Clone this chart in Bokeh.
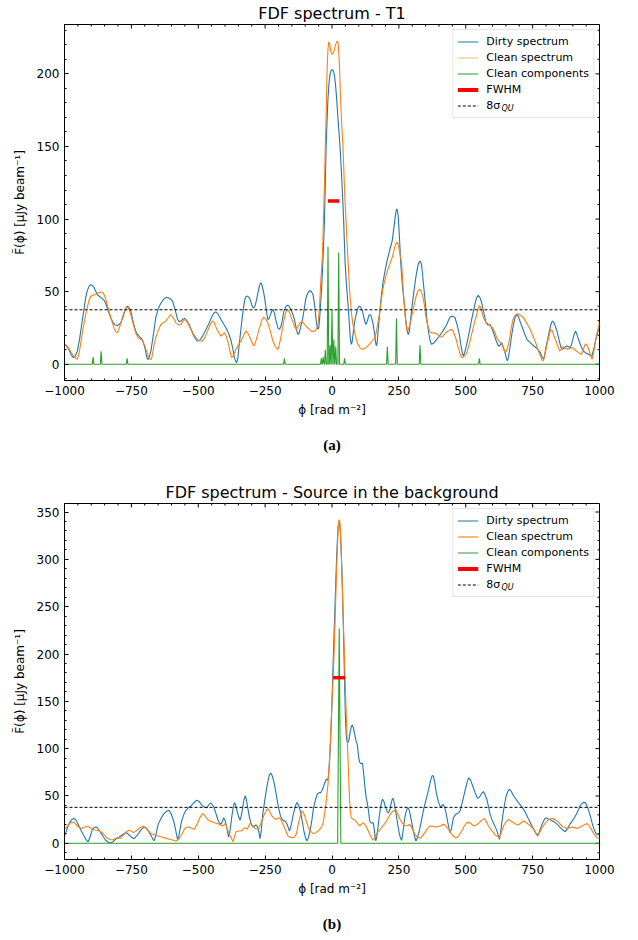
import math
from bokeh.plotting import figure
from bokeh.models import (Range1d, Legend, LegendItem, Title, SingleIntervalTicker, Label)
from bokeh.layouts import column
from bokeh.embed import file_html
from bokeh.resources import INLINE

# ---------------- Panel (a): T1  (phi [rad m^-2], amplitude [uJy/beam]) ----------------
A_DIRTY = [(-1000, 13.7), (-992, 12.5), (-984, 10.3), (-975, 6.5), (-967, 4.6), (-960, 5.5), (-952, 9),
           (-943, 18), (-934, 29.7), (-927, 38), (-921, 45.7), (-915, 50.5), (-908, 53.8), (-902, 54.8),
           (-896, 54.3), (-890, 53), (-884, 50.5), (-877, 48), (-868, 46.5), (-859, 45.2), (-852, 44),
           (-846, 42), (-837, 37), (-827, 32), (-818, 28.5), (-810, 27), (-802, 26.7), (-796, 27.3),
           (-790, 28.5), (-783, 31.5), (-777, 35), (-771, 38.5), (-765, 40), (-759, 39.2), (-752, 36.5),
           (-743, 29), (-734, 22.8), (-727, 20.5), (-720, 19), (-714, 18), (-709, 17), (-703, 13.5),
           (-698, 10), (-693, 5.5), (-690, 3.4), (-686, 3.6), (-682, 5.5), (-677, 9), (-668, 20),
           (-659, 32), (-650, 38), (-640, 42), (-628, 45), (-620, 46), (-615, 46), (-606, 45.3),
           (-596, 43.4), (-587, 38), (-577, 30.8), (-571, 29.2), (-565, 29.7), (-557, 31.2), (-550, 31.5),
           (-542, 29.8), (-534, 27.4), (-518, 20), (-508, 16.8), (-502, 16), (-495, 16.5), (-485, 19),
           (-477, 21.7), (-468, 25), (-459, 28.5), (-451, 32), (-445, 34.2), (-440, 35.6), (-434, 36),
           (-427, 34.8), (-420, 32.5), (-415, 30.8), (-406, 28), (-396, 25), (-386, 21), (-377, 16),
           (-371, 11), (-365, 4.6), (-360, 2), (-356, 1.1), (-352, 4), (-348, 12), (-344, 18), (-340, 25),
           (-335, 33), (-330, 40), (-326, 44.5), (-321, 46.8), (-315, 46.8), (-309, 45.7), (-304, 43.5),
           (-300, 41), (-296, 39.2), (-292, 38.8), (-287, 40.5), (-282, 44.5), (-277, 49), (-272, 53.5),
           (-267, 56), (-263, 55.3), (-260, 53), (-256, 50), (-252, 45.7), (-246, 38), (-240, 30.8),
           (-236, 31.3), (-230, 34), (-225, 36.6), (-220, 37.7), (-215, 35), (-209, 29.7), (-202, 25),
           (-196, 24), (-190, 26.5), (-186, 30), (-180, 36.5), (-174, 39.2), (-168, 40.6), (-162, 40.3),
           (-155, 38.2), (-146, 34.2), (-140, 30.5), (-135, 26), (-130, 22), (-127, 20.5), (-123, 21.2),
           (-118, 25), (-109, 32), (-103, 39), (-98, 45), (-94, 47.5), (-90, 49), (-84, 50.7), (-78, 50.3),
           (-71, 48), (-65, 41), (-59, 29.7), (-55, 25.5), (-52, 24), (-49, 25.5), (-46, 32), (-42, 43),
           (-38, 55), (-34, 71), (-31, 85), (-28, 100), (-25, 125), (-22, 150), (-18, 170), (-15, 183),
           (-11, 194), (-7, 200), (-3, 202.5), (1, 203), (5, 202), (9, 199), (13, 193), (17, 184),
           (22, 170), (27, 158), (31, 147), (35, 133), (39, 118), (43, 102), (46, 86), (49, 70), (54, 55),
           (60, 41), (64, 30), (68, 18.5), (72, 13.7), (75, 15), (78, 20), (85, 29.7), (90, 34), (95, 38),
           (101, 40), (107, 39.5), (114, 36.5), (120, 31.5), (126, 27.4), (130, 28.5), (134, 31),
           (138, 33.6), (141, 34.2), (145, 33.7), (148, 32), (154, 27.4), (160, 20), (163, 15), (166, 12.6),
           (169, 15), (172, 22), (179, 36.5), (185, 48), (191, 57), (200, 66), (207, 72), (215, 78),
           (225, 85), (232, 95), (236, 101), (239, 105), (242, 107), (245, 105.5), (248, 101), (252, 88),
           (257, 70), (262, 57), (268, 45), (276, 30), (281, 23), (285, 20.5), (288, 21.5), (291, 26),
           (297, 36.5), (306, 50), (312, 58), (316, 63), (322, 68.5), (327, 70.8), (331, 70.8), (335, 68),
           (338, 63), (341, 57), (348, 44), (354, 32), (358, 26), (363, 20), (367, 16), (372, 13.7),
           (380, 14.5), (391, 17), (400, 19), (410, 21.7), (420, 24.5), (429, 27.4), (436, 30.5),
           (441, 32.5), (447, 33), (453, 33), (460, 32), (468, 27), (476, 20.5), (481, 14), (485, 10),
           (488, 7), (491, 5.7), (495, 7.5), (500, 11), (506, 16), (514, 23), (522, 30.8), (528, 36),
           (535, 42), (541, 46), (547, 47.5), (553, 46), (560, 42), (568, 35), (576, 28.5), (583, 27),
           (591, 27.4), (597, 25), (604, 21.7), (612, 17), (622, 12.6), (628, 13), (635, 14.8), (640, 12),
           (647, 8), (652, 4), (656, 2.3), (660, 5), (664, 10), (672, 20.5), (679, 28), (685, 32.5),
           (691, 34.2), (696, 33.2), (700, 31), (705, 28.5), (710, 26), (720, 21), (729, 17), (740, 15),
           (754, 12.6), (766, 11), (779, 8), (785, 5), (791, 3.4), (795, 6), (800, 12), (805, 16),
           (810, 20.5), (817, 26.5), (822, 29.3), (825, 29.7), (829, 28.8), (833, 27), (841, 22.8),
           (850, 16), (855, 12), (860, 10.3), (866, 10.8), (872, 12), (879, 12.6), (885, 12), (891, 11.4),
           (896, 14), (900, 17), (905, 20.5), (910, 22.8), (914, 21.5), (918, 19), (926, 14.8),
           (933, 11.5), (941, 9), (950, 7.5), (960, 6.8), (966, 6), (972, 5.7), (978, 10), (985, 16),
           (992, 21), (1000, 26)]

A_CLEAN = [(-1000, 14), (-992, 13), (-984, 11), (-975, 8), (-965, 5.7), (-958, 4), (-952, 3.4), (-946, 7),
           (-940, 13.7), (-930, 25), (-921, 34), (-910, 43), (-902, 46.8), (-893, 47.6), (-884, 48),
           (-875, 49), (-865, 49.8), (-858, 49.4), (-852, 48), (-846, 45), (-840, 41), (-830, 34),
           (-821, 28.5), (-815, 25), (-810, 23), (-806, 22), (-802, 21.7), (-797, 24), (-790, 28),
           (-784, 32), (-777, 36), (-771, 38.5), (-767, 39.5), (-762, 38.8), (-756, 36.5), (-752, 34.2),
           (-743, 27.5), (-734, 21.7), (-726, 18.5), (-718, 17.5), (-709, 16.4), (-700, 12.8), (-692, 8),
           (-686, 5), (-681, 3.5), (-677, 3), (-673, 5), (-668, 10), (-664, 14.5), (-659, 18.3), (-650, 23),
           (-640, 27.4), (-631, 28.5), (-621, 29.7), (-612, 32), (-606, 33.8), (-602, 34.2), (-597, 33),
           (-590, 31), (-584, 28.5), (-575, 27.3), (-570, 27), (-565, 27.4), (-558, 29.5), (-552, 30.7),
           (-547, 30.5), (-540, 28.5), (-527, 24), (-515, 20), (-502, 16.7), (-493, 16), (-484, 16),
           (-475, 18.5), (-465, 22.8), (-456, 27), (-450, 29), (-446, 29.7), (-441, 29), (-436, 26.5),
           (-430, 24), (-422, 21.3), (-415, 19.4), (-408, 20.5), (-402, 21.7), (-396, 19.5), (-390, 16),
           (-384, 11.5), (-379, 7), (-375, 4.6), (-370, 5.5), (-365, 7.5), (-359, 10.3), (-350, 13.5),
           (-340, 16), (-330, 20), (-324, 22.4), (-321, 22.8), (-315, 21.5), (-309, 19.4), (-300, 15.5),
           (-295, 13.3), (-292, 12.6), (-288, 14), (-283, 17), (-275, 22.8), (-266, 28), (-261, 31),
           (-256, 32.4), (-250, 31.7), (-245, 30.3), (-240, 28.5), (-230, 22.5), (-221, 16), (-212, 12.2),
           (-206, 10.7), (-202, 10.3), (-197, 13.5), (-190, 19.5), (-184, 26), (-178, 32), (-172, 36.2),
           (-167, 37.7), (-162, 36.8), (-157, 34.7), (-152, 32), (-145, 28.5), (-139, 25.5), (-134, 24),
           (-128, 25.5), (-122, 27.8), (-115, 29.2), (-108, 28.6), (-102, 27.3), (-96, 26), (-86, 24.2),
           (-77, 22.8), (-68, 22.5), (-63, 23.2), (-59, 24), (-55, 26), (-52, 28), (-50, 32), (-46, 42),
           (-42, 57), (-37, 71), (-34, 85), (-32, 100), (-28, 125), (-25, 150), (-21, 180), (-18, 205),
           (-15, 217), (-12, 222), (-9, 221), (-5, 216), (0, 213.5), (4, 214), (8, 216), (12, 219),
           (17, 222), (21, 222.5), (24, 219), (28, 205), (31, 188), (35, 170), (41, 150), (45, 130),
           (48, 115), (52, 100), (56, 85), (60, 71), (66, 50), (72, 36.5), (78, 27.5), (85, 21.7), (91, 17),
           (97, 13.7), (105, 11.3), (110, 10.6), (116, 10.3), (122, 10.8), (130, 12), (141, 14), (150, 16),
           (160, 18.3), (165, 21.5), (170, 27), (179, 36.5), (185, 45), (191, 52.5), (200, 60), (210, 66),
           (218, 70), (226, 74), (235, 81), (239, 83), (242, 84), (245, 83.5), (248, 82), (254, 76),
           (260, 70), (266, 52), (272, 36.5), (277, 27), (281, 22.8), (285, 23.5), (290, 26.5), (297, 32),
           (306, 40), (316, 48), (322, 50.6), (326, 51.4), (331, 51.2), (336, 49), (341, 45.7), (346, 40),
           (350, 34), (355, 29), (360, 25), (366, 22.5), (372, 21.7), (381, 21.6), (391, 21), (399, 19.8),
           (406, 18.7), (413, 19), (420, 20.5), (426, 21.7), (436, 23), (442, 23.8), (447, 24), (452, 23),
           (458, 20.5), (466, 16), (471, 12), (476, 9), (480, 6.5), (485, 4.6), (490, 4.8), (497, 6),
           (504, 8), (512, 13), (522, 20.5), (531, 27.5), (537, 31.5), (541, 34.2), (546, 38), (551, 40.4),
           (555, 39.5), (560, 36.5), (566, 32), (575, 29), (585, 27.4), (593, 26.2), (601, 25), (608, 22),
           (616, 18.3), (626, 15.5), (635, 13.7), (641, 11), (647, 8), (651, 8.8), (655, 10.8), (660, 13.7),
           (665, 19), (670, 25), (675, 29.5), (679, 32), (686, 34), (690, 34.5), (694, 34.7), (700, 34.3),
           (708, 33.3), (716, 32), (726, 29), (735, 26), (745, 22.3), (754, 18.3), (763, 14), (772, 9),
           (780, 5.5), (785, 3), (789, 2.3), (793, 4.5), (798, 8.5), (804, 13.7), (811, 19.5), (816, 22.8),
           (819, 24), (823, 23.3), (828, 20.5), (835, 17), (843, 13), (851, 9), (857, 10.5), (862, 11.8),
           (866, 12), (873, 11), (881, 10.3), (889, 11), (897, 11.4), (905, 10.5), (914, 9), (922, 8),
           (931, 6.8), (937, 8.5), (942, 11.5), (947, 14), (952, 13.6), (956, 12), (960, 10.3), (966, 6.5),
           (972, 3.4), (976, 6), (980, 10), (985, 16), (992, 22.5), (1000, 28.5)]

A_COMP_PHI = [-893, -863, -766, -178, -40, -33, -25, -15, -7, 0, 7, 14, 25, 47, 207, 241, 329, 551]
A_COMP_AMP = [5, 9, 4, 4, 4, 5, 10, 81, 13, 38, 17, 12, 77, 4, 12, 31.5, 13, 4]

A_FWHM_PHI = [-15, 27]
A_FWHM_AMP = 112.5
A_THRESHOLD = 37.5

# ---------------- Panel (b): source in the background ----------------
B_DIRTY = [(-1000, 7.7), (-992, 14), (-984, 20), (-975, 24.5), (-965, 26.4), (-956, 24), (-946, 18.3),
           (-937, 13), (-927, 7.7), (-920, 4.2), (-912, 1.4), (-904, 7), (-896, 14.8), (-889, 16.6),
           (-881, 17.3), (-874, 15.2), (-865, 11.3), (-855, 7), (-846, 3.2), (-836, 1.2), (-827, 0.4),
           (-818, 1.8), (-809, 4.2), (-800, 6), (-790, 7.7), (-780, 9.8), (-771, 11.3), (-765, 10.6),
           (-759, 8.8), (-750, 6.5), (-740, 4.9), (-731, 7.5), (-721, 11.3), (-712, 15), (-702, 17.3),
           (-694, 16.2), (-687, 13.7), (-681, 10.5), (-675, 7.7), (-670, 4.5), (-665, 2.5), (-659, 8),
           (-650, 20), (-640, 26), (-630, 30.6), (-620, 33.6), (-609, 34.9), (-601, 31), (-592, 23.6),
           (-584, 13.5), (-580, 7.5), (-577, 3.5), (-573, 7), (-568, 15), (-562, 23.6), (-554, 30.5),
           (-546, 34.9), (-537, 37.5), (-527, 39.4), (-516, 43), (-510, 44.8), (-505, 45.4), (-498, 44.5),
           (-491, 42), (-484, 39.4), (-476, 38), (-467, 37.7), (-461, 40.5), (-455, 42.6), (-449, 41.5),
           (-442, 38.4), (-435, 32.5), (-427, 25.4), (-421, 21.5), (-415, 20), (-410, 23), (-405, 27),
           (-400, 24.5), (-396, 20), (-391, 13), (-387, 6.7), (-383, 10), (-379, 18), (-375, 27), (-370, 37),
           (-365, 43), (-360, 40.5), (-355, 34.2), (-349, 28), (-344, 24.3), (-339, 29), (-334, 37.7),
           (-329, 46), (-325, 50), (-321, 47.5), (-315, 37.7), (-309, 28), (-302, 20), (-297, 17.5),
           (-292, 17.3), (-288, 18.8), (-284, 19.4), (-280, 18), (-275, 14.8), (-272, 9.5), (-269, 4.9),
           (-265, 12), (-259, 30.6), (-252, 44), (-246, 55.3), (-240, 65), (-235, 71.5), (-230, 74),
           (-226, 73), (-222, 70), (-215, 62.3), (-207, 49), (-200, 37.7), (-193, 29.5), (-187, 25.4),
           (-181, 24), (-175, 23.6), (-167, 19.5), (-159, 13), (-152, 20), (-146, 28.9), (-139, 37),
           (-134, 41.5), (-131, 43), (-126, 41), (-121, 36.5), (-117, 32.4), (-111, 23), (-105, 13),
           (-100, 7), (-94, 2.5), (-88, 6), (-81, 14.8), (-75, 25), (-69, 37.7), (-62, 46), (-55, 51.8),
           (-48, 53.5), (-42, 53.5), (-37, 56), (-31, 60.6), (-26, 64.5), (-21, 67.6), (-17, 67.5),
           (-15, 66.5), (-12, 74), (-9, 87), (-5, 110), (-1, 140), (3, 180), (7, 215), (10, 240), (14, 275),
           (17, 300), (20, 320), (23, 335), (26, 340), (29, 337), (32, 325), (35, 305), (38, 280), (41, 245),
           (44, 210), (47, 170), (50, 135), (53, 115), (56, 108), (60, 106.5), (64, 110), (68, 118),
           (72, 123), (76, 125), (80, 122), (85, 115), (90, 108), (95, 104), (99, 92), (103, 86), (108, 84),
           (114, 84.6), (118, 75), (122, 62.3), (128, 48), (135, 37.7), (139, 28), (141, 23.6), (146, 21.5),
           (150, 21.6), (154, 21.8), (158, 15), (161, 7), (164, 2.5), (168, 8), (172, 17), (176, 27),
           (181, 37), (185, 43.5), (189, 46.5), (193, 45), (197, 41), (201, 37.7), (207, 33), (212, 32.4),
           (217, 36), (221, 42), (226, 47.5), (230, 46), (234, 40), (239, 32.4), (244, 23), (250, 13),
           (255, 6.5), (260, 3.2), (264, 9), (268, 18), (272, 27), (277, 33.5), (281, 36.7), (285, 37.7),
           (290, 33.5), (297, 23.6), (302, 16), (308, 8), (311, 4.5), (314, 2.5), (319, 5.5), (324, 10.5),
           (329, 16.5), (336, 26.5), (344, 37.7), (352, 46.5), (360, 55.3), (366, 63), (371, 69),
           (375, 71.8), (379, 71), (385, 63), (391, 51.8), (398, 43.5), (406, 37.7), (411, 39.5),
           (416, 41.2), (421, 38.2), (426, 32.4), (431, 25), (436, 17.5), (441, 11.3), (446, 14.5),
           (450, 21), (454, 27), (460, 29.5), (466, 31.3), (472, 32), (479, 34.2), (486, 42), (494, 51.8),
           (501, 60), (506, 65.5), (510, 68.7), (514, 68.6), (519, 66), (526, 60.6), (535, 53.5),
           (544, 47.5), (549, 48.2), (554, 50), (560, 53), (566, 54.6), (572, 51.5), (579, 46.5), (584, 40),
           (591, 30.6), (598, 25), (606, 20), (613, 15.5), (619, 11.3), (622, 7.5), (626, 4.2), (630, 10.5),
           (634, 20), (639, 30.6), (645, 41), (651, 50), (657, 54.5), (661, 56.5), (664, 57), (670, 55),
           (679, 50), (688, 46.5), (697, 43), (706, 39.8), (716, 36), (725, 31.5), (735, 25.4), (745, 20),
           (754, 14.8), (762, 10.5), (769, 7.7), (775, 12), (780, 16), (785, 20), (792, 24.2), (797, 26.3),
           (801, 27), (810, 25.5), (819, 24.3), (827, 23.3), (835, 21.8), (845, 19.3), (854, 16.5),
           (863, 14), (872, 12.3), (880, 15.2), (889, 20), (897, 23.2), (906, 27), (914, 31), (922, 36),
           (928, 39.8), (935, 42.3), (941, 43.2), (947, 43), (953, 39.8), (960, 34.2), (966, 28.5),
           (972, 21.8), (978, 16), (985, 11.3), (992, 9.2), (1000, 8.8)]

B_CLEAN = [(-1000, 14.8), (-992, 17.5), (-984, 20), (-976, 21.8), (-967, 22.5), (-960, 20.8), (-952, 18.3),
           (-943, 16.5), (-934, 15.8), (-925, 17), (-915, 18), (-906, 16.8), (-896, 14.8), (-887, 14),
           (-877, 13.7), (-868, 12.8), (-859, 11.3), (-850, 8.5), (-840, 5.3), (-830, 4), (-821, 3.5),
           (-815, 4.3), (-809, 5.3), (-800, 5.5), (-792, 5.3), (-785, 7), (-777, 9.5), (-768, 12.5),
           (-759, 13.7), (-751, 13), (-742, 11.3), (-734, 12.7), (-725, 14.8), (-716, 16.8), (-705, 18),
           (-696, 16), (-687, 13), (-679, 11), (-671, 9.5), (-656, 8.2), (-640, 7), (-628, 6), (-615, 4.9),
           (-600, 3.7), (-590, 3), (-584, 2.5), (-578, 3.5), (-571, 5.5), (-565, 7.7), (-557, 12),
           (-550, 15.8), (-542, 17.2), (-534, 17.3), (-525, 15.8), (-517, 14.8), (-510, 17), (-502, 21.8),
           (-493, 27.5), (-488, 30.3), (-484, 31.3), (-478, 30.2), (-471, 27.5), (-465, 25.4), (-456, 23.5),
           (-446, 22.5), (-437, 21.5), (-427, 20.8), (-418, 19.5), (-409, 18.3), (-404, 19.5), (-400, 20.8),
           (-396, 19), (-390, 13.7), (-385, 10.5), (-380, 7.7), (-375, 4.5), (-370, 1.8), (-365, 6.5),
           (-359, 12.3), (-350, 13), (-340, 13), (-333, 14.5), (-327, 16.5), (-322, 16), (-317, 14.8),
           (-311, 18.5), (-305, 21.8), (-299, 19.5), (-292, 16.5), (-285, 15.3), (-277, 14.8), (-271, 17.5),
           (-265, 21.8), (-257, 27.8), (-250, 32.4), (-245, 35), (-240, 36.6), (-234, 34.5), (-225, 28.9),
           (-217, 26.5), (-209, 25.4), (-202, 26.5), (-196, 27), (-189, 24), (-180, 18.3), (-172, 12.7),
           (-165, 7.7), (-155, 6.3), (-146, 6), (-140, 7), (-134, 9.5), (-130, 14), (-125, 21.8), (-118, 29),
           (-114, 32.5), (-112, 34.2), (-108, 33), (-102, 28.9), (-95, 22.5), (-87, 15.8), (-79, 12.6),
           (-71, 10.2), (-62, 11), (-52, 13), (-44, 15.5), (-37, 18.3), (-32, 23), (-27, 32.4), (-23, 41),
           (-19, 51.8), (-15, 62), (-12, 76.4), (-8, 95), (-5, 115), (0, 150), (5, 178), (10, 220),
           (15, 268), (20, 312), (23, 332), (25, 340), (27, 342), (29, 340), (31, 332), (34, 312), (39, 268),
           (44, 220), (49, 175), (54, 130), (59, 95), (63, 65), (66, 45), (68, 35), (72, 27), (76, 26),
           (79, 25.4), (85, 24.5), (91, 23), (98, 20.3), (104, 18.3), (110, 20.3), (116, 21.8), (122, 20.3),
           (129, 17.3), (135, 13.5), (141, 9.5), (148, 5.5), (154, 3.2), (161, 6.5), (169, 11.3), (177, 14),
           (185, 16.5), (195, 20), (204, 23.6), (213, 28.3), (222, 32.4), (231, 34.5), (239, 34.9),
           (246, 31), (254, 25.4), (263, 21.3), (272, 18.3), (281, 18.8), (291, 20), (300, 15.5), (310, 9.5),
           (319, 6.6), (329, 5.3), (338, 7.8), (347, 11.3), (356, 15.3), (366, 18.3), (375, 18.1),
           (385, 17.3), (395, 17.6), (404, 18.3), (412, 19.5), (419, 20), (427, 17.8), (435, 14.8),
           (445, 10.6), (454, 7.7), (460, 6.4), (466, 6), (475, 8.5), (485, 13), (494, 18), (504, 21.8),
           (510, 22.1), (516, 21.8), (523, 19.8), (531, 18.3), (541, 19.6), (551, 21.8), (560, 24.5),
           (569, 26.4), (577, 23), (585, 18.3), (594, 14.5), (604, 11.3), (614, 8), (625, 6), (633, 11.5),
           (641, 18.3), (650, 22.5), (660, 25.4), (669, 23.5), (679, 21.8), (688, 20.2), (697, 19.4),
           (706, 21.5), (716, 23.6), (725, 22), (735, 20), (745, 17.5), (754, 14.8), (762, 11), (769, 8.5),
           (777, 12), (785, 16.5), (795, 20.5), (804, 23.6), (813, 25.5), (822, 26.4), (832, 25.3),
           (841, 23.6), (850, 21), (860, 18.3), (869, 16.8), (879, 15.8), (888, 16.3), (897, 17.3),
           (906, 16.6), (916, 15.8), (925, 16.8), (935, 18.3), (945, 19.8), (954, 20.8), (961, 18.3),
           (969, 14.8), (977, 11), (985, 7.7), (992, 5.7), (1000, 4.9)]

B_COMP_PHI = [27]
B_COMP_AMP = [227]

B_FWHM_PHI = [4.5, 48.5]
B_FWHM_AMP = 175
B_THRESHOLD = 38

X_TICKS = [-1000, -750, -500, -250, 0, 250, 500, 750, 1000]
X_MINOR_STEP = 50
Y_MAJOR_STEP = 50
Y_MINOR_STEP = 10

BLUE = "#1f77b4"
ORANGE = "#ff7f0e"
GREEN = "#2ca02c"
FONT = "DejaVu Sans"
NAN = float("nan")


def unzip(pairs):
    return [p[0] for p in pairs], [p[1] for p in pairs]


def spikes(phis, amps, hw):
    xs, ys = [-1000], [0]
    for x, h in sorted(zip(phis, amps)):
        xs += [x - hw, x, x + hw]
        ys += [0, h, 0]
    xs.append(1000)
    ys.append(0)
    return xs, ys


def style_axis(ax):
    ax.major_tick_in = 4
    ax.major_tick_out = 0
    ax.minor_tick_in = 2
    ax.minor_tick_out = 0
    ax.major_tick_line_color = "black"
    ax.minor_tick_line_color = "black"
    ax.axis_line_color = "black"
    ax.major_label_text_font = FONT
    ax.major_label_text_font_size = "12px"
    ax.major_label_text_color = "black"
    ax.axis_label_text_font = FONT
    ax.axis_label_text_font_size = "12px"
    ax.axis_label_text_font_style = "normal"
    ax.axis_label_text_color = "black"


def make_panel(title, caption, dirty, clean, kphi, kamp, hw, fphi, famp, thr, yr, top, bottom,
               leg_styles):
    p = figure(frame_width=535, frame_height=356, min_border_left=64, min_border_right=39,
               min_border_top=top, min_border_bottom=bottom,
               x_range=Range1d(-1000, 1000), y_range=Range1d(*yr),
               output_backend="svg", toolbar_location=None)
    p.title = Title(text=title, align="center", text_font=FONT, text_font_size="16px",
                    text_font_style="normal", text_color="black", standoff=3)
    p.outline_line_color = "black"
    p.outline_line_width = 1
    p.xgrid.visible = False
    p.ygrid.visible = False
    p.background_fill_color = "white"
    p.border_fill_color = "white"

    p.xaxis.ticker = SingleIntervalTicker(interval=250, num_minor_ticks=5)
    p.yaxis.ticker = SingleIntervalTicker(interval=Y_MAJOR_STEP, num_minor_ticks=5)
    p.xaxis.major_label_overrides = {t: str(t).replace("-", "\u2212") for t in X_TICKS}
    p.xaxis.axis_label = "\u03d5 [rad m\u207b\u00b2]"
    p.yaxis.axis_label = "F\u0303(\u03d5) [\u03bcJy beam\u207b\u00b9]"
    style_axis(p.xaxis[0])
    style_axis(p.yaxis[0])
    p.xaxis.major_label_standoff = 5
    p.xaxis.axis_label_standoff = 5
    p.yaxis.major_label_standoff = 5
    p.yaxis.axis_label_standoff = 7

    # tick marks on the top and right edges (half of each dash is clipped by the frame)
    x_minor = [t for t in range(-1000, 1001, X_MINOR_STEP) if t not in X_TICKS]
    y_major = [t for t in range(0, int(yr[1]) + 1, Y_MAJOR_STEP)]
    y_minor = [t for t in range(-10, int(yr[1]) + 1, Y_MINOR_STEP) if t % Y_MAJOR_STEP and t > yr[0]]
    p.scatter(X_TICKS, [yr[1]] * len(X_TICKS), marker="dash", size=8, angle=math.pi / 2,
              line_color="black", line_width=1)
    p.scatter(x_minor, [yr[1]] * len(x_minor), marker="dash", size=4, angle=math.pi / 2,
              line_color="black", line_width=1)
    p.scatter([1000] * len(y_major), y_major, marker="dash", size=8,
              line_color="black", line_width=1)
    p.scatter([1000] * len(y_minor), y_minor, marker="dash", size=4,
              line_color="black", line_width=1)

    dx, dy = unzip(dirty)
    cx, cy = unzip(clean)
    p.line(dx, dy, line_color=BLUE, line_width=1.1)
    p.line(cx, cy, line_color=ORANGE, line_width=1.1)
    sx, sy = spikes(kphi, kamp, hw)
    p.line(sx, sy, line_color=GREEN, line_width=1.1)
    p.line(fphi, [famp, famp], line_color="red", line_width=3.5)
    p.line([-1000, 1000], [thr, thr], line_color="black", line_width=1, line_dash="3 2")

    # legend swatches: renderers with no visible points, carrying the legend styling
    (cs_a, cs_w), (cc_a, cc_w) = leg_styles
    g1 = p.line([NAN], [NAN], line_color=BLUE, line_width=1.2)
    g2 = p.line([NAN], [NAN], line_color=ORANGE, line_width=cs_w, line_alpha=cs_a)
    g3 = p.line([NAN], [NAN], line_color=GREEN, line_width=cc_w, line_alpha=cc_a)
    g4 = p.line([NAN], [NAN], line_color="red", line_width=4)
    g5 = p.line([NAN], [NAN], line_color="black", line_width=1, line_dash="3 2")

    leg = Legend(items=[LegendItem(label="Dirty spectrum", renderers=[g1]),
                        LegendItem(label="Clean spectrum", renderers=[g2]),
                        LegendItem(label="Clean components", renderers=[g3]),
                        LegendItem(label="FWHM", renderers=[g4]),
                        LegendItem(label="8\u03c3", renderers=[g5])],
                 location="top_right", label_text_font=FONT, label_text_font_size="11px",
                 label_text_color="black",
                 glyph_width=21, glyph_height=15, label_height=15, label_standoff=8,
                 spacing=1, padding=4, margin=5,
                 border_line_color="#cccccc", border_line_width=1,
                 background_fill_color="white", background_fill_alpha=0.0)
    p.add_layout(leg)
    p.add_layout(Label(x=437, y=272, x_units="screen", y_units="screen", text="QU",
                       text_font=FONT, text_font_size="8px", text_font_style="italic",
                       text_color="black", text_baseline="middle", level="overlay"))

    p.add_layout(Title(text=caption, align="center", text_font="Liberation Serif",
                       text_font_size="15px", text_font_style="bold", text_color="black",
                       standoff=31), "below")
    return p


pa = make_panel("FDF spectrum - T1", "(a)", A_DIRTY, A_CLEAN, A_COMP_PHI, A_COMP_AMP, 3,
                A_FWHM_PHI, A_FWHM_AMP, A_THRESHOLD, (-11.2, 234), 23, 91,
                ((0.55, 1.2), (0.5, 2)))
pb = make_panel("FDF spectrum - Source in the background", "(b)", B_DIRTY, B_CLEAN,
                B_COMP_PHI, B_COMP_AMP, 6, B_FWHM_PHI, B_FWHM_AMP, B_THRESHOLD,
                (-17.1, 359), 32, 82, ((0.55, 2), (1.0, 1.2)))

layout = column(pa, pb, spacing=0)
open("out.html", "w").write(file_html(layout, INLINE))
